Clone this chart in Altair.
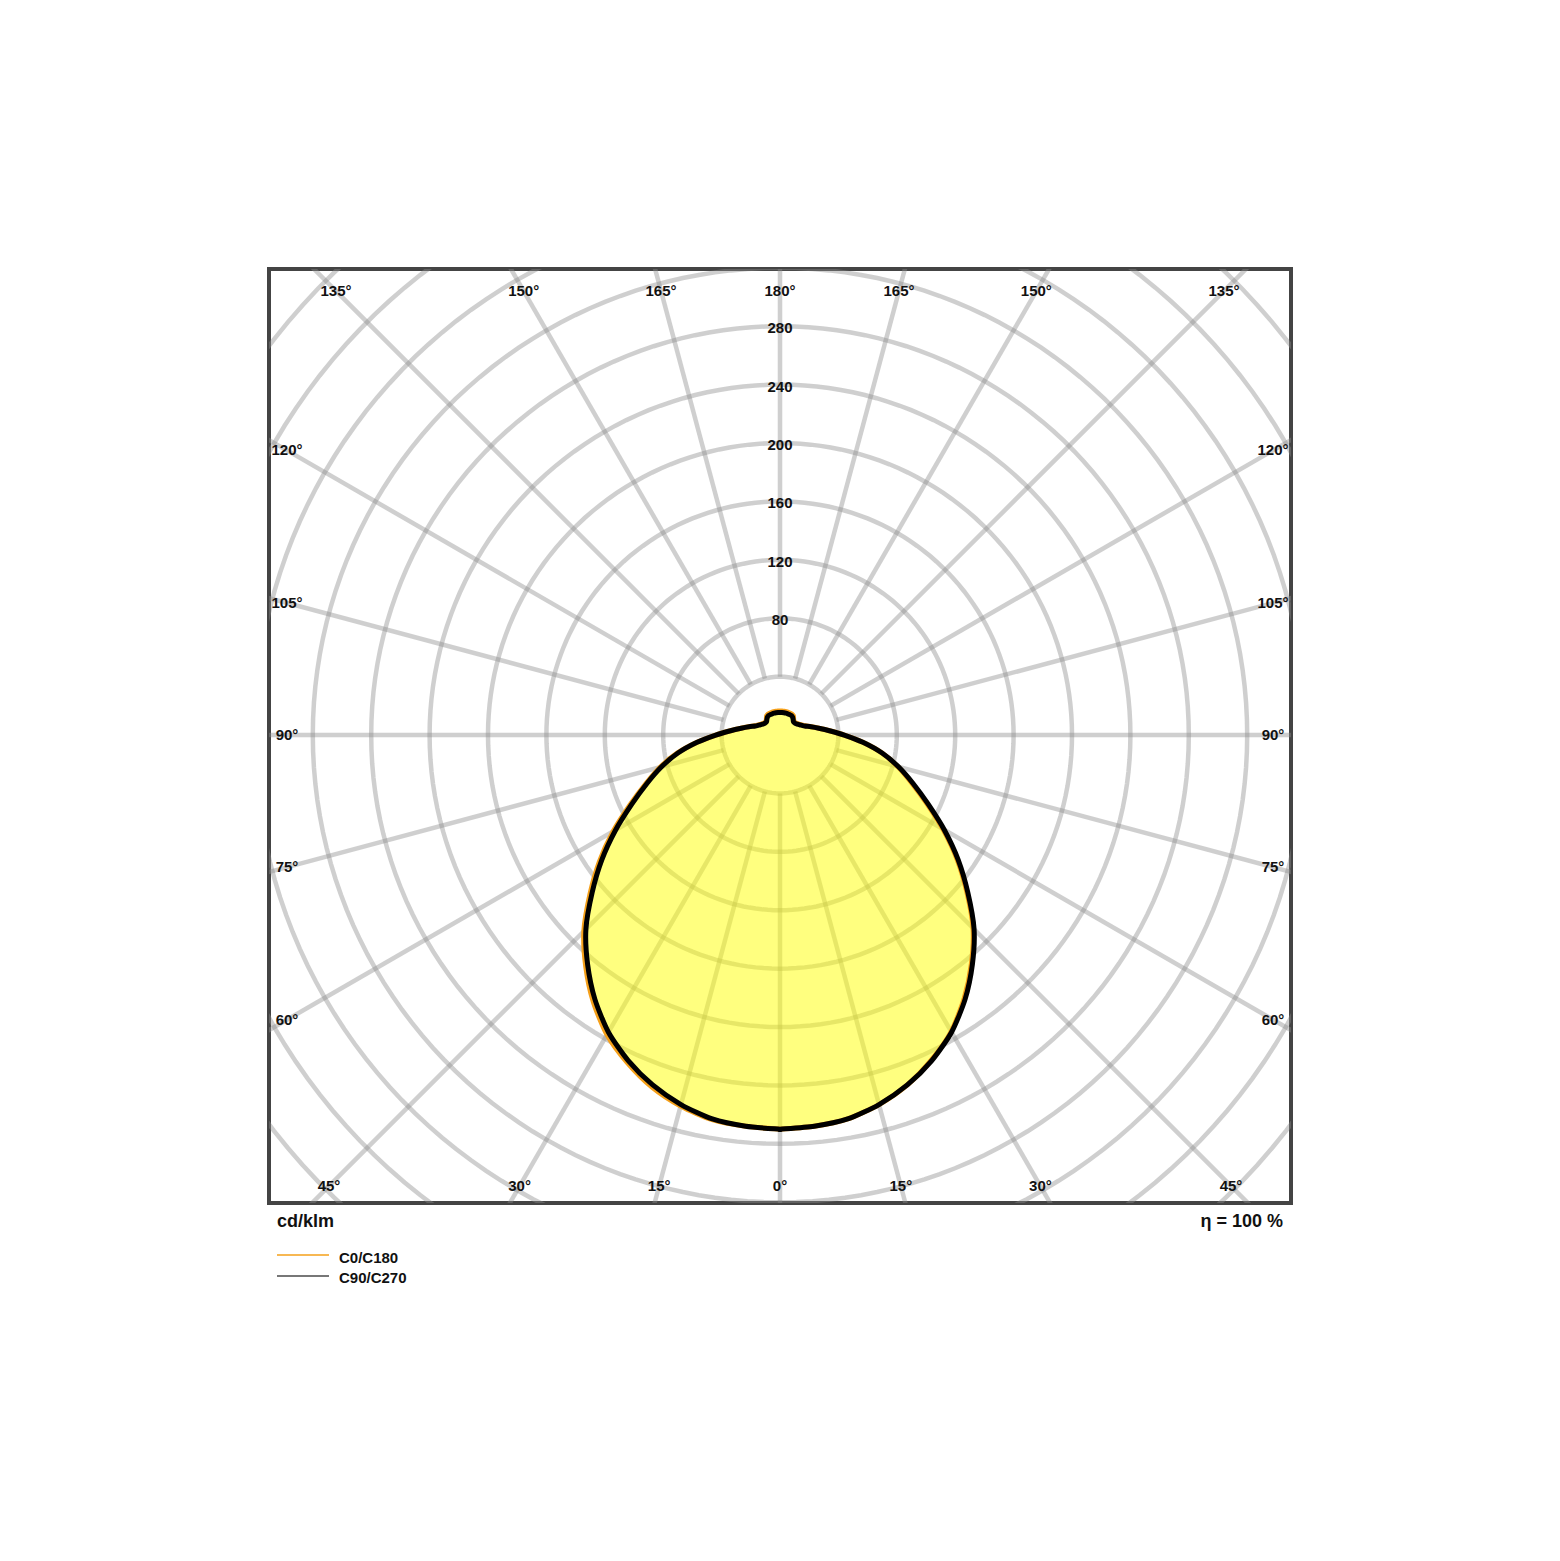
import altair as alt
import numpy as np
import pandas as pd

# ---------------- data (cd/klm) ----------------
gamma = list(range(0, 181, 5))
c0 =   [270,269,267,262,255,245.5,234.5,220,204,187,167,148,129,111,96,83.5,71,57,44,34,27,22,18.5,16.5,15,14,13.5,13.5,14.5,16,16.5,16.5,16.5,16.5,16.5,16.5,16.5]
c180 = [270,269,267.5,263,256.5,247.5,237,223,207,190,170,151,132,113.5,98,85,71.5,57,44,34,27,22,18.5,16.5,15,14,13.5,13.5,14.5,16,16.5,16.5,16.5,16.5,16.5,16.5,16.5]
c90 =  [270,269,267,262,255,246,235,221,205,188,168,149,130,112,97,84,71,57,44,34,27,22,18,16,14.5,13.5,13,13,14,15,15.5,15.5,15.5,15.5,15.5,15.5,15.5]
c270 = [270,269,267,262,255,246,235,221,205,188,168,149,130,112,97,84,71,57,44,34,27,22,18,16,14.5,13.5,13,13,14,15,15.5,15.5,15.5,15.5,15.5,15.5,15.5]

ring_values = [40, 80, 120, 160, 200, 240, 280, 320, 360, 400, 440, 480]
ring_label_values = [80, 120, 160, 200, 240, 280]
spoke_angles = list(range(0, 360, 15))

bottom_labels = [(-45, "45°"), (-30, "30°"), (-15, "15°"), (0, "0°"), (15, "15°"), (30, "30°"), (45, "45°")]
top_labels = [(-135, "135°"), (-150, "150°"), (-165, "165°"), (180, "180°"), (165, "165°"), (150, "150°"), (135, "135°")]
side_labels = [(60, "60°"), (75, "75°"), (90, "90°"), (105, "105°"), (120, "120°")]

# ---------------- geometry helpers ----------------
W, H = 1022, 934
XD = [-350, 350]
YD = [-320.5, 319.2]
xs = alt.Scale(domain=XD, nice=False, zero=False)
ys = alt.Scale(domain=YD, nice=False, zero=False)


def curve_frame(right_vals, left_vals, name):
    rows = []
    i = 0
    for a, v in zip(gamma, right_vals):
        rows.append(dict(angle=a, value=v, sign=1, idx=i, series=name)); i += 1
    for a, v in reversed(list(zip(gamma, left_vals))):
        if a == 180:
            continue
        rows.append(dict(angle=a, value=v, sign=-1, idx=i, series=name)); i += 1
    return pd.DataFrame(rows)


df_c0 = curve_frame(c0, c180, "C0/C180")
df_c90 = curve_frame(c90, c270, "C90/C270")

calc_xy = dict(
    px="datum.sign * datum.value * sin(datum.angle * PI / 180)",
    py="-datum.value * cos(datum.angle * PI / 180)",
)

# rings
ring_rows = []
for r in ring_values:
    for k, a in enumerate(np.arange(0, 361, 2)):
        ring_rows.append(dict(ring=r, a=float(a), k=k))
df_rings = pd.DataFrame(ring_rows)

df_spokes = pd.DataFrame(dict(a=spoke_angles, r0=ring_values[0], r1=600))

# angle label positions: inset from plot frame
S = W / (XD[1] - XD[0])  # px per unit
d_bottom = 451 / S
d_top = 444 / S
d_side = 493 / S
lab_rows = []
for a, t in bottom_labels:
    lab_rows.append(dict(x=d_bottom * np.tan(np.radians(a)), y=-d_bottom, t=t))
for a, t in top_labels:
    lab_rows.append(dict(x=-d_top * np.tan(np.radians(a)), y=d_top, t=t))
for a, t in side_labels:
    yy = -d_side / np.tan(np.radians(a)) if a != 90 else 0.0
    lab_rows.append(dict(x=-d_side, y=yy, t=t))
    lab_rows.append(dict(x=d_side, y=yy, t=t))
df_anglab = pd.DataFrame(lab_rows)

df_ringlab = pd.DataFrame(dict(v=ring_label_values, x=0, t=[str(v) for v in ring_label_values]))

FONT = "Liberation Sans"

fill = alt.Chart(df_c0).mark_line(fill="#ffff00", fillOpacity=0.5, stroke=None, strokeWidth=0, clip=True,
                                  interpolate="cardinal-closed", tension=0.3).transform_calculate(**calc_xy).encode(
    x=alt.X("px:Q", scale=xs, axis=None),
    y=alt.Y("py:Q", scale=ys, axis=None),
    order="idx:Q",
)

rings = alt.Chart(df_rings).mark_line(stroke="#8c8c8c", strokeOpacity=0.42, strokeWidth=4.5, clip=True).transform_calculate(
    px="datum.ring * sin(datum.a * PI / 180)",
    py="datum.ring * cos(datum.a * PI / 180)",
).encode(
    x=alt.X("px:Q", scale=xs, axis=None),
    y=alt.Y("py:Q", scale=ys, axis=None),
    detail="ring:N",
    order="k:Q",
)

spokes = alt.Chart(df_spokes).mark_rule(stroke="#8c8c8c", strokeOpacity=0.42, strokeWidth=4.5, clip=True).transform_calculate(
    x0="datum.r0 * sin(datum.a * PI / 180)",
    y0="-datum.r0 * cos(datum.a * PI / 180)",
    x1="datum.r1 * sin(datum.a * PI / 180)",
    y1="-datum.r1 * cos(datum.a * PI / 180)",
).encode(
    x=alt.X("x0:Q", scale=xs, axis=None),
    y=alt.Y("y0:Q", scale=ys, axis=None),
    x2="x1:Q",
    y2="y1:Q",
)

line_c0 = alt.Chart(df_c0).mark_line(stroke="#f5a01a", strokeWidth=5, strokeJoin="round", interpolate="cardinal-closed", tension=0.3).transform_calculate(**calc_xy).encode(
    x=alt.X("px:Q", scale=xs, axis=None),
    y=alt.Y("py:Q", scale=ys, axis=None),
    order="idx:Q",
)

line_c90 = alt.Chart(df_c90).mark_line(stroke="#000000", strokeWidth=5, strokeJoin="round", interpolate="cardinal-closed", tension=0.3).transform_calculate(**calc_xy).encode(
    x=alt.X("px:Q", scale=xs, axis=None),
    y=alt.Y("py:Q", scale=ys, axis=None),
    order="idx:Q",
)

angle_text = alt.Chart(df_anglab).mark_text(font=FONT, fontSize=15, fontWeight="bold", color="#111111", align="center", baseline="middle").encode(
    x=alt.X("x:Q", scale=xs, axis=None),
    y=alt.Y("y:Q", scale=ys, axis=None),
    text="t:N",
)

ring_text = alt.Chart(df_ringlab).mark_text(font=FONT, fontSize=15, fontWeight="bold", color="#111111", align="center", baseline="middle", dy=2).encode(
    x=alt.X("x:Q", scale=xs, axis=None),
    y=alt.Y("v:Q", scale=ys, axis=None),
    text="t:N",
)

ann = pd.DataFrame([{"k": 0}])
unit_txt = alt.Chart(ann).mark_text(font=FONT, fontSize=18, fontWeight="bold", color="#111111", align="left", baseline="middle", text="cd/klm").encode(
    x=alt.value(8), y=alt.value(953))
eta_txt = alt.Chart(ann).mark_text(font=FONT, fontSize=18, fontWeight="bold", color="#111111", align="right", baseline="middle", text="η = 100 %").encode(
    x=alt.value(1014), y=alt.value(953))
leg1 = alt.Chart(ann).mark_rule(stroke="#f5a01a", strokeWidth=1.5).encode(
    x=alt.value(8), x2=alt.value(60), y=alt.value(986))
leg2 = alt.Chart(ann).mark_rule(stroke="#777777", strokeWidth=2).encode(
    x=alt.value(8), x2=alt.value(60), y=alt.value(1007))
leg1_txt = alt.Chart(ann).mark_text(font=FONT, fontSize=15, fontWeight="bold", color="#111111", align="left", baseline="middle", text="C0/C180").encode(
    x=alt.value(70), y=alt.value(989))
leg2_txt = alt.Chart(ann).mark_text(font=FONT, fontSize=15, fontWeight="bold", color="#111111", align="left", baseline="middle", text="C90/C270").encode(
    x=alt.value(70), y=alt.value(1009))

chart = alt.layer(
    rings, spokes, fill, line_c0, line_c90, angle_text, ring_text,
    unit_txt, eta_txt, leg1, leg2, leg1_txt, leg2_txt,
).properties(
    width=W, height=H,
    autosize=alt.AutoSizeParams(type="none"),
    padding={"left": 261, "top": 261, "right": 261, "bottom": 340},
    background="white",
).configure_view(stroke="#444444", strokeWidth=4)

chart.save("out.html", embed_options={"renderer": "svg", "actions": False})
